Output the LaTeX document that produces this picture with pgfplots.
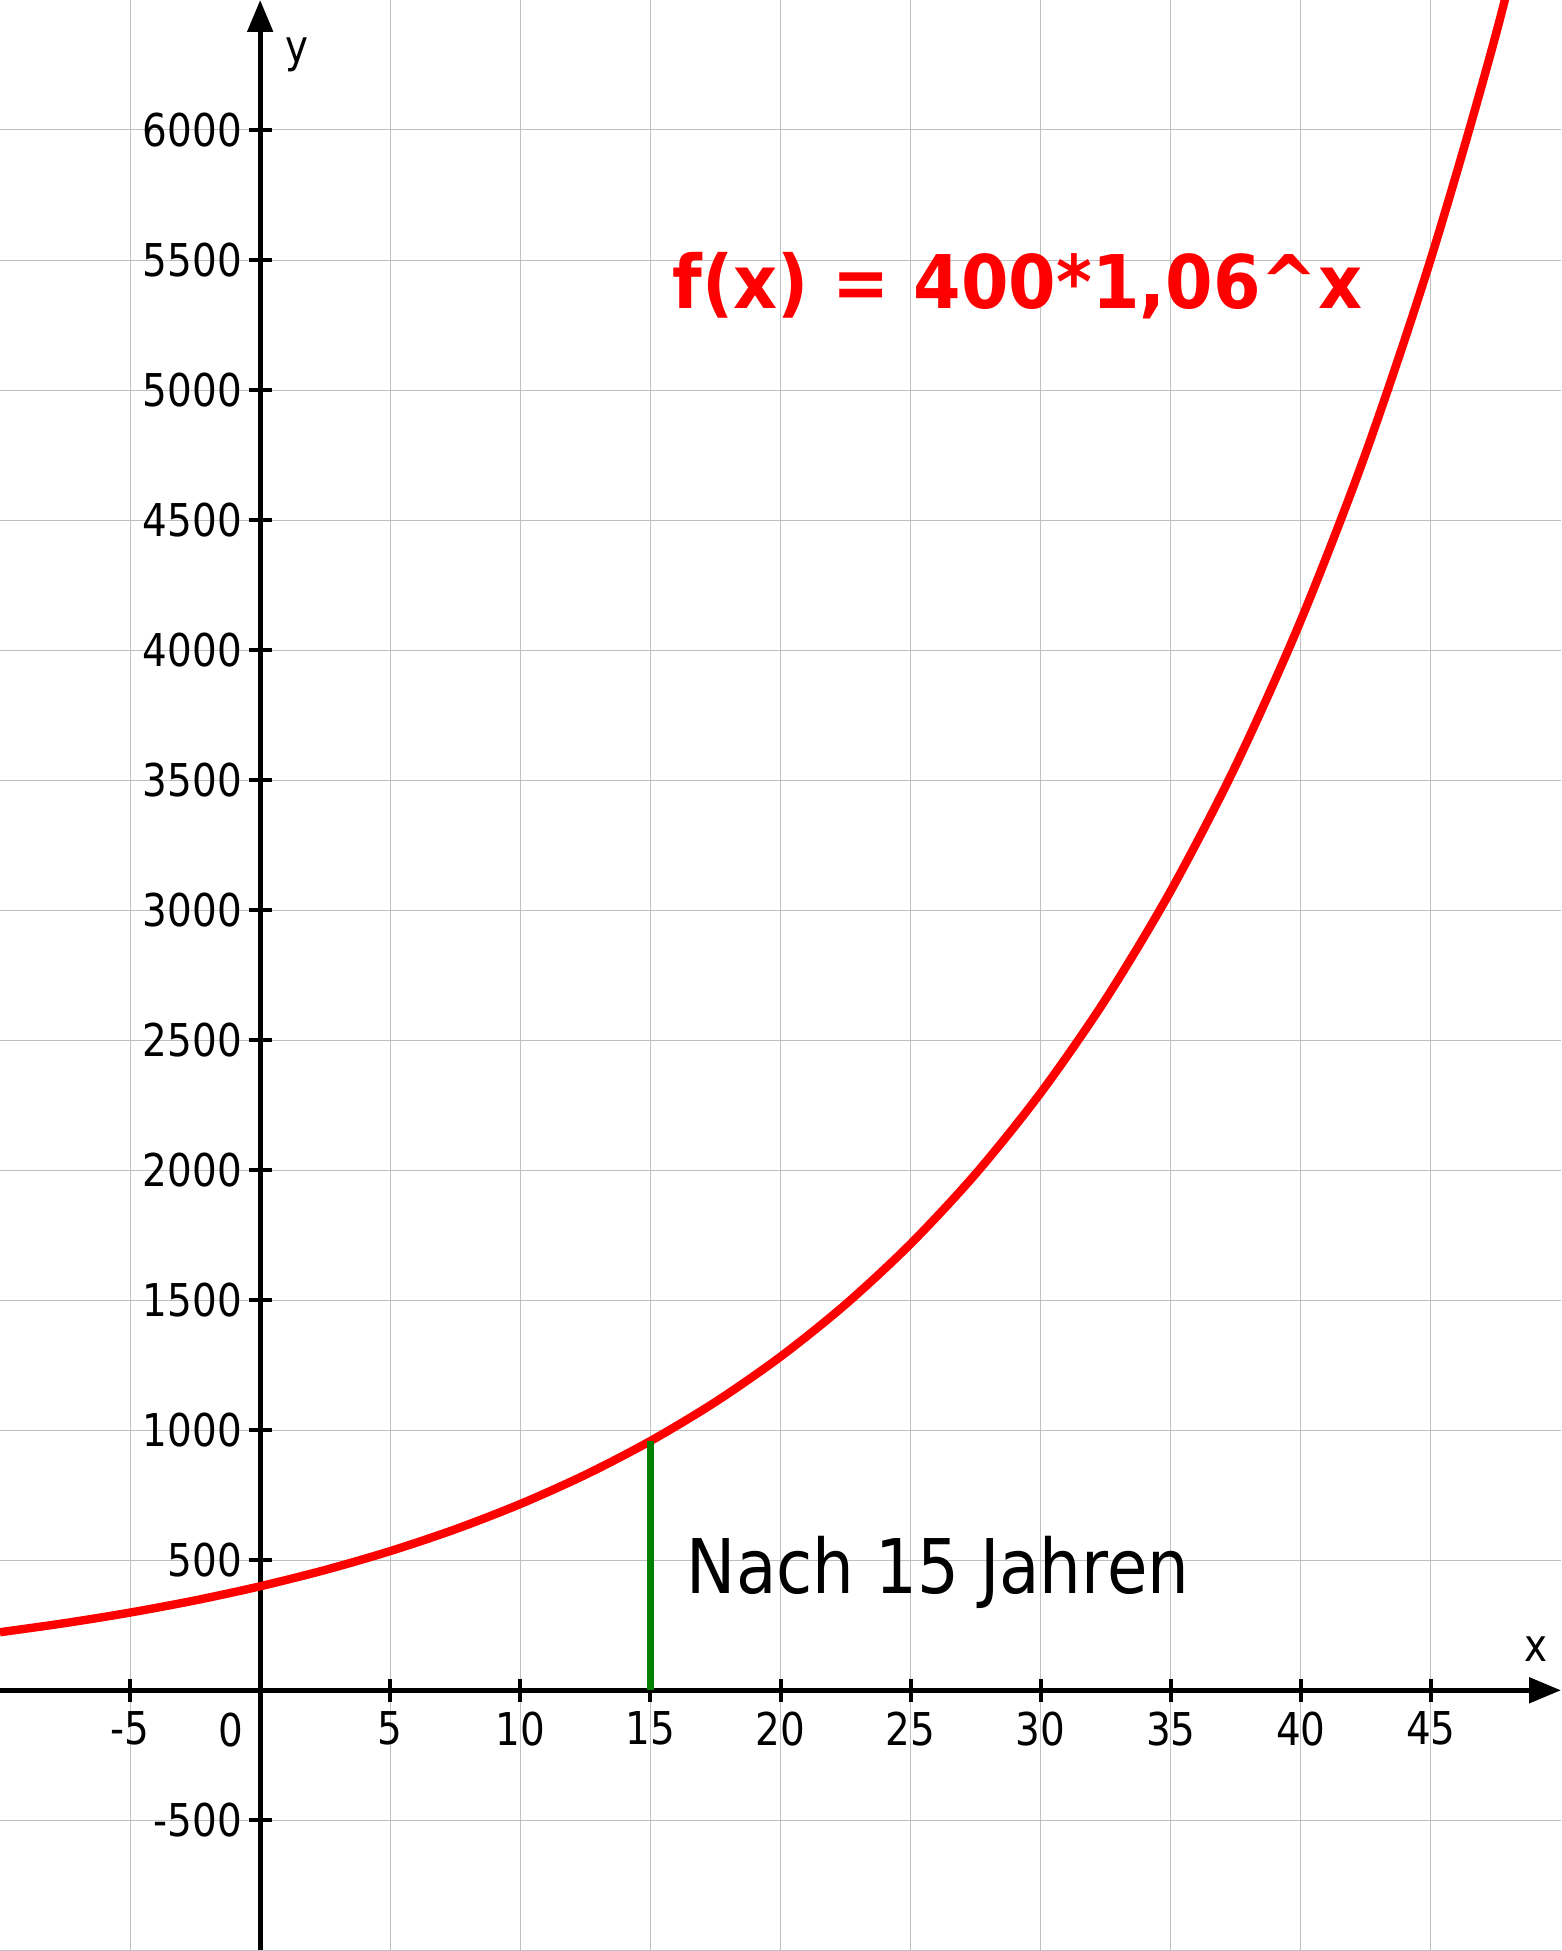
\documentclass[border=0pt]{standalone}
\usepackage{pgfplots}
\pgfplotsset{compat=1.18}
\usepackage{fontspec}
\setmainfont{DejaVu Sans}[FakeStretch=0.86]
\newfontfamily\titlefont{DejaVu Sans Bold}[FakeStretch=0.924]
\newfontfamily\notefont{DejaVu Sans}[FakeStretch=0.873]
\usetikzlibrary{arrows.meta}
\definecolor{gridgray}{RGB}{192,192,192}
\definecolor{ggreen}{RGB}{0,128,0}
\begin{document}
\fontsize{22.6pt}{27pt}\selectfont
\begin{tikzpicture}
\begin{axis}[
  scale only axis, width=780.5pt, height=975.5pt,
  xmin=-10, xmax=50, ymin=-1002.5, ymax=6500,
  axis lines=middle,
  axis line style={line width=2.6pt, -{Triangle[length=16pt,width=12.5pt]}},
  xtick={-5,5,10,...,45},
  ytick={-500,500,1000,...,6000},
  extra y ticks={-1000}, extra y tick labels={},
  extra y tick style={major tick length=0pt},
  grid=major, grid style={gridgray, line width=0.5pt},
  tick align=center, major tick length=11.5pt,
  tick style={line width=2pt, black},
  scaled ticks=false,
  /pgf/number format/1000 sep={},
  /pgf/number format/assume math mode=true,
  xticklabel style={anchor=north, inner sep=0pt, yshift=-4.8pt},
  yticklabel style={anchor=east, inner sep=0pt, xshift=-3.2pt},
]
\addplot[red, line width=4.2pt, smooth] coordinates {
(-10,223.36) (-7.5,258.39) (-5,298.90) (-2.5,345.77) (0,400) (2.5,462.73)
(5,535.29) (7.5,619.23) (10,716.34) (12.5,828.67) (15,958.62) (17.5,1108.95)
(20,1282.85) (22.5,1484.02) (25,1716.75) (27.5,1985.96) (30,2297.40)
(32.5,2657.67) (35,3074.43) (37.5,3556.55) (40,4114.29) (42.5,4759.48)
(45,5505.84) (47.5,6369.25) (50,7368.06)};
\addplot[ggreen, line width=3.3pt] coordinates {(15,0) (15,958.62)};
\node[anchor=base west, inner sep=0pt, text=red, font=\fontsize{37}{44}\titlefont] at (axis cs:15.83,5312) {f(x) = 400*1,06\textasciicircum{}x};
\node[anchor=base west, inner sep=0pt, font=\fontsize{37.7}{45}\notefont] at (axis cs:16.39,374) {Nach 15 Jahren};
\node[anchor=base, inner sep=0pt] at (axis cs:49.05,109) {x};
\node[anchor=base, inner sep=0pt] at (axis cs:1.43,6259) {y};
\node[anchor=north east, inner sep=0pt, xshift=-8.5pt, yshift=-11pt] at (axis cs:0,0) {0};
\end{axis}
\pgfresetboundingbox
\useasboundingbox (current axis.south west) rectangle (current axis.north east);
\end{tikzpicture}
\end{document}
